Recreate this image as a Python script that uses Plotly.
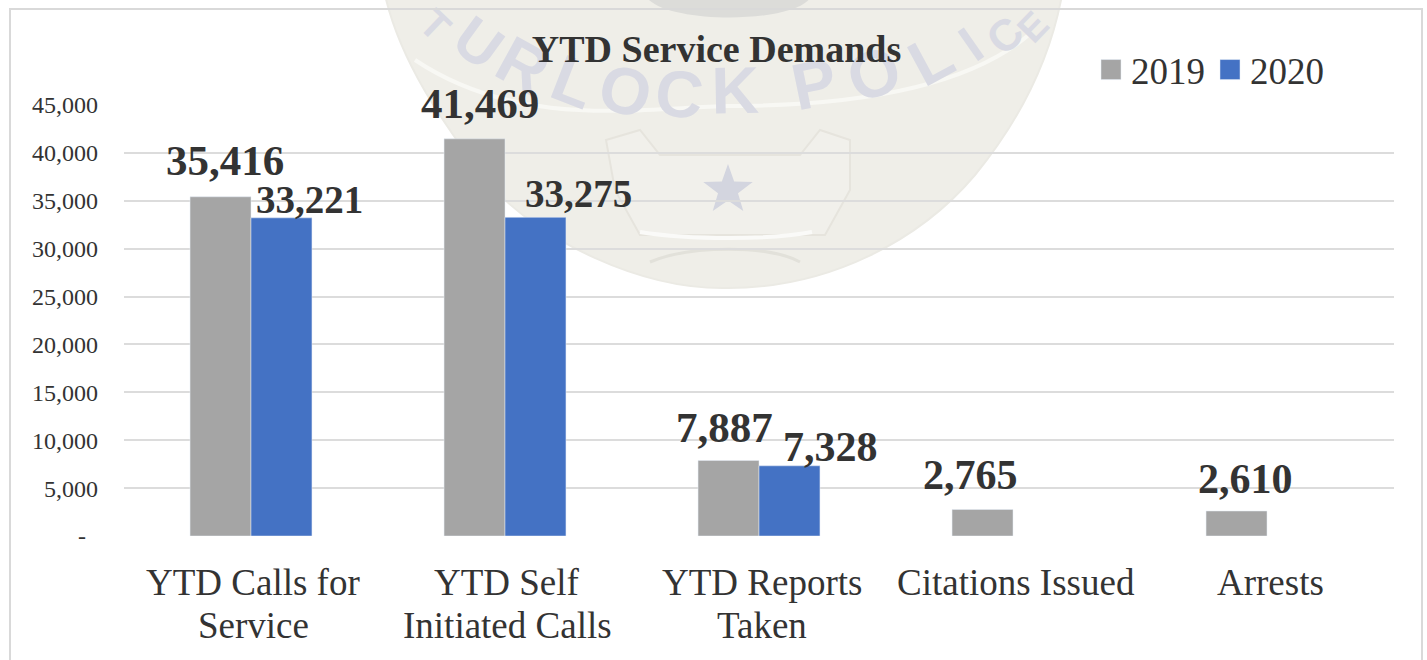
import math
import plotly.graph_objects as go

categories = ["YTD Calls for<br>Service", "YTD Self<br>Initiated Calls", "YTD Reports<br>Taken", "Citations Issued", "Arrests"]
values_2019 = [35416, 41469, 7887, 2765, 2610]
values_2020 = [33221, 33275, 7328, None, None]
y_ticks = [0, 5000, 10000, 15000, 20000, 25000, 30000, 35000, 40000, 45000]
y_tick_labels = ["-\u00a0\u00a0", "5,000", "10,000", "15,000", "20,000", "25,000", "30,000", "35,000", "40,000", "45,000"]
title_text = "YTD Service Demands"

W, H = 1427, 660
L, R, T, B = 124, 1394, 105, 536
GRAY, BLUE, TEXT, GRID = "#A5A5A5", "#4472C4", "#333333", "#DCDCDC"
SERIF = "Liberation Serif"

def px(x): return (x - L) / (R - L)
def py(y): return (B - y) / (B - T)
def path(pts, close=True):
    s = "M" + " L".join(f"{px(x):.5f},{py(y):.5f}" for x, y in pts)
    return s + (" Z" if close else "")
def curve(pts):
    s = f"M{px(pts[0][0]):.5f},{py(pts[0][1]):.5f}"
    for i in range(1, len(pts), 3):
        s += " C" + " ".join(f"{px(x):.5f},{py(y):.5f}" for x, y in pts[i:i+3])
    return s

shapes = []
def add_path(d, fill="rgba(0,0,0,0)", line=None, width=0):
    shapes.append(dict(type="path", xref="paper", yref="paper", path=d, layer="below",
                       fillcolor=fill, line=dict(color=line or "rgba(0,0,0,0)", width=width)))

# faint badge watermark behind the chart
add_path(curve([(385, -5), (400, 60), (440, 120), (490, 185), (540, 240), (640, 290), (728, 288),
                (830, 288), (920, 240), (975, 175), (1020, 120), (1050, 60), (1062, -5)]) + " Z",
         fill="#EFEEE8", line="#EBEAE4", width=2)
add_path(curve([(415, 60), (520, 130), (640, 108), (728, 106), (830, 106), (960, 95), (1031, 33)]),
         line="#F8F8F4", width=4)
add_path(curve([(645, -5), (660, 25), (800, 25), (812, -5)]) + " Z", fill="#DCDCD9")
add_path(path([(606, 140), (640, 130), (660, 155), (800, 155), (820, 130), (850, 140), (850, 190),
               (825, 235), (640, 235), (615, 190)]), fill="#F1F0EB", line="#E6E4DD", width=2)
add_path(curve([(640, 232), (690, 240), (770, 240), (812, 232)]), line="#FAFAF8", width=4)
add_path(curve([(650, 262), (690, 245), (770, 245), (800, 262)]), line="#E2E1DA", width=3)

star = []
for i in range(10):
    r = 26 if i % 2 == 0 else 10.5
    a = math.pi * i / 5
    star.append((728 + r * math.sin(a), 190 - r * math.cos(a)))
add_path(path(star), fill="#D3D5DF")

badge_letters = ["T", "U", "R", "L", "O", "C", "K", "P", "O", "L", "I", "C", "E"]
badge_x = [438, 482, 526, 576, 627, 680, 735, 813, 872, 928, 968, 1002, 1030]
badge_y = [22, 38, 60, 76, 85, 88, 84, 78, 68, 54, 40, 32, 24]
badge_size = [40, 60, 66, 66, 66, 66, 66, 66, 66, 64, 52, 44, 38]
for ch, x, y, s in zip(badge_letters, badge_x, badge_y, badge_size):
    ang = math.degrees(math.asin(max(-1, min(1, (728 - x) / 420))))
    shapes.append(dict(type="rect", xref="paper", yref="paper", layer="below",
                       x0=px(x - 30), x1=px(x + 30), y0=py(y + 30), y1=py(y - 30),
                       fillcolor="rgba(0,0,0,0)", line=dict(width=0),
                       label=dict(text=ch, textangle=ang, textposition="middle center",
                                  font=dict(family="Liberation Sans", size=s, weight=700, color="#D9DAE3"))))

# chart frame
shapes.append(dict(type="rect", xref="paper", yref="paper", layer="below",
                   x0=px(10), x1=px(1422), y0=py(9), y1=py(680),
                   fillcolor="rgba(0,0,0,0)", line=dict(color="#D9D9D9", width=2)))

fig = go.Figure()
fig.add_bar(name="2019", x=categories, y=values_2019, marker_color=GRAY)
fig.add_bar(name="2020", x=categories, y=values_2020, marker_color=BLUE)

annotations = []
bar_off = 0.12
size_2019 = [43, 43, 43, 42, 42]
size_2020 = [39, 39, 42]
shift_x_2019 = [4.5, 5, -4.5, -12.5, 9]
shift_x_2020 = [28, 43.5, 41]
shift_y_2019 = [11, 10, 7, 10, 7]
shift_y_2020 = [-5, 0, -6]
for i, v in enumerate(values_2019):
    annotations.append(dict(x=i - bar_off, y=v, xref="x", yref="y", text=f"{v:,}", showarrow=False,
                            xanchor="center", yanchor="bottom", xshift=shift_x_2019[i], yshift=shift_y_2019[i],
                            font=dict(family=SERIF, size=size_2019[i], weight=700, color=TEXT)))
for i, v in enumerate(values_2020):
    if v is None:
        continue
    annotations.append(dict(x=i + bar_off, y=v, xref="x", yref="y", text=f"{v:,}", showarrow=False,
                            xanchor="center", yanchor="bottom", xshift=shift_x_2020[i], yshift=shift_y_2020[i],
                            font=dict(family=SERIF, size=size_2020[i], weight=700, color=TEXT)))
# category labels, line by line (tighter leading than axis tick labels allow)
cat_shift = [2, 2, 3, 3, 3]
for i, c in enumerate(categories):
    for j, line in enumerate(c.split("<br>")):
        annotations.append(dict(x=i, y=py(582 + 43 * j), xref="x", yref="paper", text=line, showarrow=False,
                                xanchor="center", yanchor="middle", xshift=cat_shift[i],
                                font=dict(family=SERIF, size=37, color=TEXT)))

fig.update_layout(
    width=W, height=H, autosize=False,
    margin=dict(l=L, r=W - R, t=T, b=H - B),
    paper_bgcolor="white", plot_bgcolor="rgba(0,0,0,0)",
    barmode="group", bargap=0.52, bargroupgap=0,
    font=dict(family=SERIF, color=TEXT),
    title=dict(text=title_text, x=716.5 / W, xref="container", xanchor="center",
               y=1 - 49 / H, yref="container", yanchor="middle",
               font=dict(family=SERIF, size=38, weight=700, color=TEXT)),
    legend=dict(orientation="h", x=px(1091), y=py(70), xanchor="left", yanchor="middle",
                font=dict(family=SERIF, size=37, color=TEXT), bgcolor="rgba(0,0,0,0)",
                itemwidth=30, tracegroupgap=0),
    shapes=shapes,
    annotations=annotations,
    xaxis=dict(type="category", showticklabels=False, ticks="", showgrid=False,
               showline=False, zeroline=False, range=[-0.5, 4.5]),
    yaxis=dict(range=[0, 45000], tickmode="array", tickvals=y_ticks, ticktext=y_tick_labels,
               ticks="", ticklabelstandoff=25, showline=False, zeroline=False,
               showgrid=True, gridcolor=GRID, gridwidth=2,
               tickfont=dict(family=SERIF, size=24, color=TEXT)),
)

post = """
document.body.style.margin = '0';
document.body.style.overflow = 'hidden';
document.querySelectorAll('.legendpoints path').forEach(function (p) {
  p.setAttribute('d', 'M10,10H-10V-10H10Z');
});
"""
fig.write_html("out.html", post_script=post, config={"displayModeBar": False})
